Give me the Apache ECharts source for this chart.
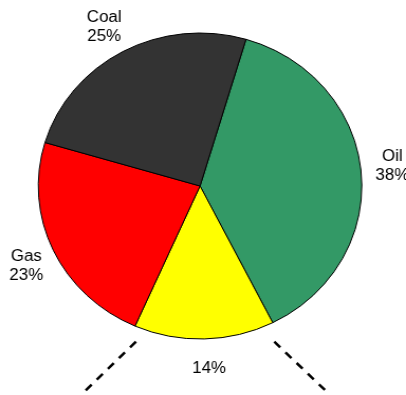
<!DOCTYPE html>
<html>
<head>
<meta charset="utf-8">
<script src="https://cdn.jsdelivr.net/npm/echarts@6/dist/echarts.min.js"></script>
<style>
html,body{margin:0;padding:0;background:#fff;overflow:hidden;width:406px;height:395px;}
#wrap{width:406px;height:395px;overflow:hidden;position:relative;}
#chart{width:384px;height:395px;transform:scaleX(1.0573);transform-origin:0 0;position:absolute;left:0;top:0;}
</style>
</head>
<body>
<div id="wrap"><div id="chart"></div></div>
<script>
const categories = ['Oil', '', 'Gas', 'Coal'];
const shares = [38, 14, 23, 25];
const sliceColors = ['#339966', '#FFFF00', '#FF0000', '#333333'];

const chart = echarts.init(document.getElementById('chart'), null, {renderer: 'canvas'});
const center = [189.2, 186];

const pieData = categories.map((c, i) => ({name: c, value: shares[i], itemStyle: {color: sliceColors[i]}}));
const labelData = categories.map((c, i) => ({name: c, value: shares[i]}));

chart.setOption({
  animation: false,
  backgroundColor: '#fff',
  series: [
    {
      type: 'pie',
      center: center,
      radius: [0, 153],
      startAngle: 73.5,
      clockwise: true,
      silent: true,
      data: pieData,
      itemStyle: {borderColor: '#000', borderWidth: 1},
      label: {show: false},
      labelLine: {show: false},
      emphasis: {disabled: true}
    },
    {
      type: 'pie',
      center: center,
      radius: [168, 192],
      startAngle: 74.7,
      clockwise: true,
      silent: true,
      data: labelData,
      itemStyle: {color: 'rgba(0,0,0,0)', borderWidth: 0},
      label: {
        show: true,
        position: 'inside',
        color: '#000',
        fontFamily: 'Liberation Sans, Arial, sans-serif',
        fontSize: 16,
        lineHeight: 19,
        align: 'center',
        formatter: p => (p.name ? p.name + '\n' : '') + p.value + '%'
      },
      labelLine: {show: false},
      emphasis: {disabled: true}
    }
  ],
  graphic: [
    {type: 'line', silent: true, shape: {x1: 128.6, y1: 341.7, x2: 79.7, y2: 391.7},
     style: {stroke: '#000', lineWidth: 2.5, lineDash: [8, 7]}},
    {type: 'line', silent: true, shape: {x1: 259.4, y1: 341.7, x2: 308.3, y2: 391},
     style: {stroke: '#000', lineWidth: 2.5, lineDash: [8, 7]}}
  ]
});
</script>
</body>
</html>
